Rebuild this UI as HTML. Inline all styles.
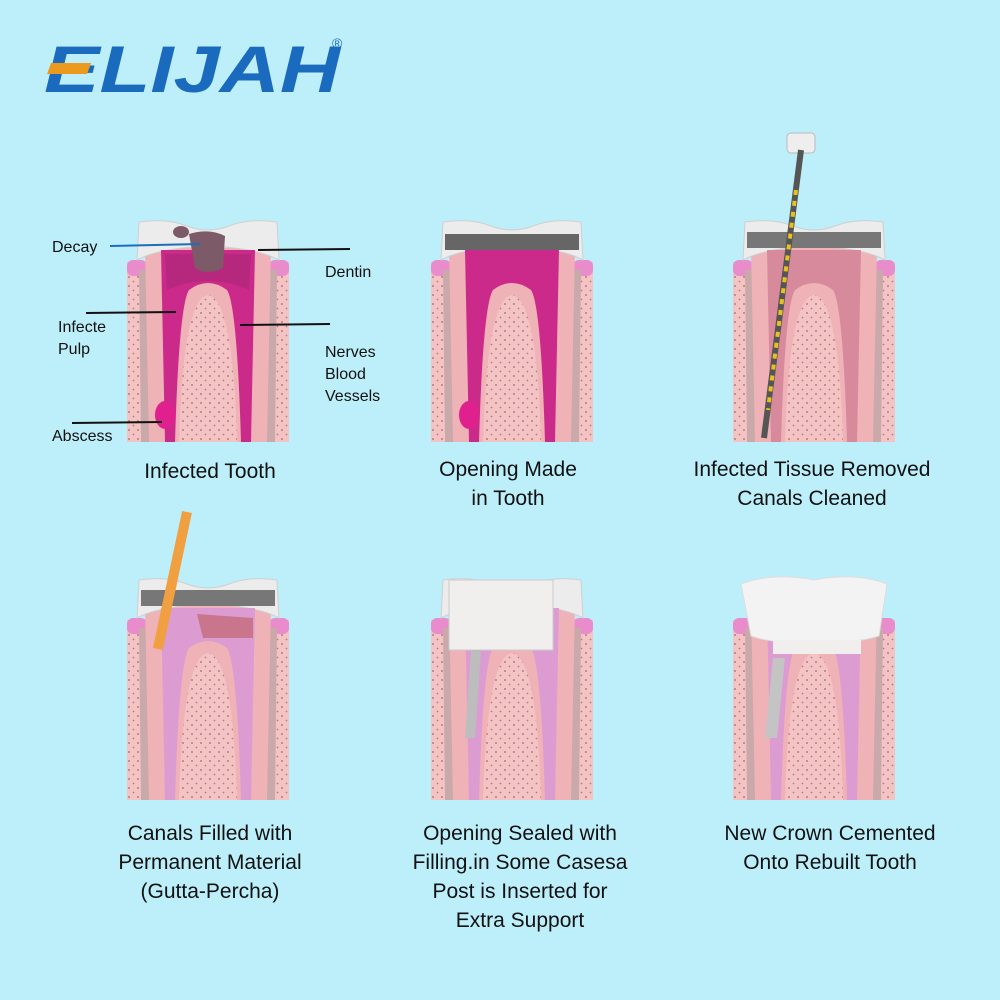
<!DOCTYPE html>
<html><head><style>
html,body{margin:0;padding:0;background:#bdeffb;}
body{width:1000px;height:1000px;position:relative;overflow:hidden;font-family:"Liberation Sans",sans-serif;}
.c{position:absolute;text-align:center;font-size:21px;color:#111;line-height:29px;}
.l{position:absolute;font-size:16px;color:#111;line-height:22px;}
</style></head><body>
<svg width="1000" height="1000" style="position:absolute;left:0;top:0">
<defs>
<pattern id="dots" width="9" height="9" patternUnits="userSpaceOnUse">
<rect width="9" height="9" fill="#f4c4c4"/><circle cx="2" cy="3" r="1" fill="#b57c84"/><circle cx="6.5" cy="7.5" r="0.9" fill="#b57c84"/>
</pattern>
<g id="base">
<rect x="0" y="42" width="162" height="180" fill="url(#dots)"/>
<rect x="0" y="40" width="20" height="16" rx="6" fill="#e88ccc"/>
<rect x="142" y="40" width="20" height="16" rx="6" fill="#e88ccc"/>
<path d="M12,50 L150,50 L148,222 L116,222 Q112,66 81,62 Q50,66 46,222 L14,222 Z" fill="#c9a9a9"/>
<path d="M18,28 L144,28 L140,222 L110,222 Q106,78 81,75 Q56,78 52,222 L22,222 Z" fill="#efb2b6"/>
</g>
<path id="enamel" d="M12,2 Q40,-2 60,6 Q81,14 102,6 Q122,-2 150,2 L152,40 Q130,28 81,26 Q32,28 10,40 Z" fill="#ececec" stroke="#cfcfcf"/>
<path id="pulp" d="M34,30 L128,30 L124,222 L114,222 Q110,85 100,70 Q81,56 62,70 Q52,85 48,222 L38,222 Z"/>
</defs>

<!-- Row 1 tooth 1 -->
<g transform="translate(127,220)">
<use href="#base"/><use href="#enamel"/>
<use href="#pulp" fill="#cc2a8a"/>
<path d="M38,34 L124,34 L122,70 Q81,52 40,70 Z" fill="#b5287e"/>
<ellipse cx="38" cy="195" rx="10" ry="14" fill="#e0208c"/>
<path d="M62,14 Q82,8 98,16 L96,48 Q80,56 68,48 Z" fill="#7d5a68"/>
<ellipse cx="54" cy="12" rx="8" ry="6" fill="#7d5a68"/>
</g>
<!-- Row 1 tooth 2 -->
<g transform="translate(431,220)">
<use href="#base"/><use href="#enamel"/>
<use href="#pulp" fill="#cc2a8a"/>
<rect x="14" y="14" width="134" height="16" fill="#666"/>
<ellipse cx="38" cy="195" rx="10" ry="14" fill="#e0208c"/>
</g>
<!-- Row 1 tooth 3 -->
<g transform="translate(733,220)">
<use href="#base"/><use href="#enamel"/>
<rect x="14" y="12" width="134" height="16" fill="#777"/>
<use href="#pulp" fill="#d78a9c"/>
</g>
<!-- file -->
<rect x="787" y="133" width="28" height="20" rx="4" fill="#eee" stroke="#bbb"/>
<line x1="801" y1="150" x2="764" y2="438" stroke="#555" stroke-width="6"/>
<line x1="796" y1="190" x2="768" y2="410" stroke="#e8c020" stroke-width="4" stroke-dasharray="5 6"/>

<!-- Row 2 tooth 1 -->
<g transform="translate(127,578)">
<use href="#base"/><use href="#enamel"/>
<rect x="14" y="12" width="134" height="16" fill="#777"/>
<use href="#pulp" fill="#dc9cd2"/>
<path d="M70,36 L126,40 L126,60 L76,60 Z" fill="#c9768c"/>
</g>
<rect x="182" y="512" width="10" height="140" fill="#f0a040" transform="rotate(12 187 512)"/>
<!-- Row 2 tooth 2 -->
<g transform="translate(431,578)">
<use href="#base"/><use href="#enamel"/>
<use href="#pulp" fill="#dc9cd2"/>
<rect x="18" y="2" width="104" height="70" fill="#f1eeee" stroke="#ccc"/>
<path d="M40,72 L50,72 L44,160 L34,160 Z" fill="#bdbdbd"/>
</g>
<!-- Row 2 tooth 3 -->
<g transform="translate(733,578)">
<use href="#base"/>
<use href="#pulp" fill="#dc9cd2"/>
<path d="M40,80 L52,80 L44,160 L32,160 Z" fill="#c4c4c4"/>
<path d="M8,6 Q40,-6 81,2 Q122,-6 154,6 L146,58 Q120,66 81,64 Q40,66 18,58 Z" fill="#f3f3f3" stroke="#ddd"/>
<rect x="40" y="62" width="88" height="14" fill="#f1eeee"/>
</g>

<!-- label lines -->
<line x1="110" y1="246" x2="200" y2="244" stroke="#1b6fb8" stroke-width="2"/>
<line x1="258" y1="250" x2="350" y2="249" stroke="#111" stroke-width="2"/>
<line x1="86" y1="313" x2="176" y2="312" stroke="#111" stroke-width="2"/>
<line x1="240" y1="325" x2="330" y2="324" stroke="#111" stroke-width="2"/>
<line x1="72" y1="423" x2="162" y2="422" stroke="#111" stroke-width="2"/>

<!-- logo -->
<text x="44" y="92" font-family="Liberation Sans" font-weight="bold" font-style="italic" font-size="66" fill="#1a6bbd" textLength="296" lengthAdjust="spacingAndGlyphs">ELIJAH</text>
<rect x="74" y="63" width="40" height="11" fill="#ec9a1e" transform="skewX(-20)"/>
<text x="332" y="48" font-family="Liberation Sans" font-size="14" fill="#1a6bbd">®</text>
</svg>

<div class="l" style="left:52px;top:237px">Decay</div>
<div class="l" style="left:325px;top:262px">Dentin</div>
<div class="l" style="left:58px;top:317px">Infecte<br>Pulp</div>
<div class="l" style="left:325px;top:342px">Nerves<br>Blood<br>Vessels</div>
<div class="l" style="left:52px;top:426px">Abscess</div>

<div class="c" style="left:110px;top:457px;width:200px">Infected Tooth</div>
<div class="c" style="left:408px;top:455px;width:200px">Opening Made<br>in Tooth</div>
<div class="c" style="left:662px;top:455px;width:300px">Infected Tissue Removed<br>Canals Cleaned</div>
<div class="c" style="left:80px;top:819px;width:260px">Canals Filled with<br>Permanent Material<br>(Gutta-Percha)</div>
<div class="c" style="left:390px;top:819px;width:260px">Opening Sealed with<br>Filling.in Some Casesa<br>Post is Inserted for<br>Extra Support</div>
<div class="c" style="left:690px;top:819px;width:280px">New Crown Cemented<br>Onto Rebuilt Tooth</div>
</body></html>
